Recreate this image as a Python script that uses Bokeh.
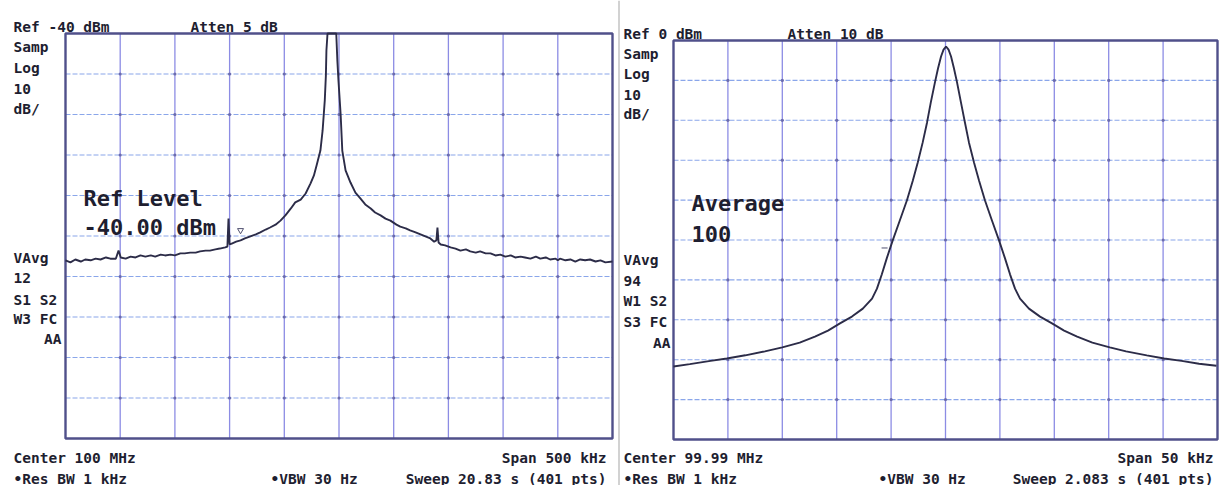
from bokeh.plotting import figure
from bokeh.models import Label, Range1d
from bokeh.layouts import row
from bokeh.embed import file_html
from bokeh.resources import INLINE

# ---------------- data ----------------
# Left screen: centre 100 MHz, span 500 kHz, ref -40 dBm, 10 dB/div
left_offset_khz = [
    -250, -245.5, -241, -236, -232, -227, -222.5, -218, -213, -209,
    -204, -201.5, -199.5, -195, -190.5, -186, -181.5, -177, -172, -168,
    -163, -159, -154, -150, -145, -141, -136, -131, -127, -122,
    -118, -113, -109, -104, -102, -101, -100, -97.5, -94, -90,
    -86, -81, -76, -72, -67, -63, -58, -53.5, -49, -44,
    -40, -35, -30.5, -26, -23, -20.5, -17, -15, -13, -12,
    -11.5, -10.5, -6, -2.5, -1.5, -0.5, 1.5, 3, 6, 10.5,
    15, 19.5, 24, 29, 33, 38, 42.5, 47, 52.5, 56,
    61, 65, 70, 74.5, 79, 83.5, 87, 89, 90, 91,
    93, 97, 102, 106.5, 111, 116, 120, 125, 129, 134,
    138.5, 143, 147.5, 152, 157, 161, 166, 170, 175, 180,
    184, 189, 193, 198, 200, 202, 207, 211.5, 216, 220.5,
    225, 229.5, 234.5, 239, 243.5, 250,
]
left_level_dbm = [
    -96.0, -96.5, -95.8, -96.3, -95.8, -96.0, -95.6, -95.8, -95.3, -95.6,
    -95.6, -93.6, -95.3, -95.6, -95.1, -95.3, -94.8, -95.1, -94.8, -95.1,
    -94.6, -94.8, -94.6, -94.8, -94.3, -94.3, -94.1, -94.1, -93.8, -93.6,
    -93.6, -93.3, -93.1, -92.8, -92.6, -85.7, -92.1, -91.8, -91.4, -91.1,
    -90.6, -90.1, -89.6, -89.1, -88.4, -87.9, -87.2, -86.2, -84.9, -83.2,
    -81.7, -81.0, -79.5, -77.0, -75.1, -72.6, -68.9, -64.0, -56.5, -50.4,
    -44.2, -40.0, -40.0, -40.0, -46.7, -51.6, -60.0, -68.9, -73.8, -76.8,
    -79.3, -80.7, -82.2, -83.2, -84.2, -84.9, -85.7, -86.2, -87.2, -87.7,
    -88.1, -88.6, -89.1, -89.6, -90.1, -90.6, -91.4, -91.1, -87.9, -91.6,
    -92.1, -92.3, -92.8, -93.1, -93.6, -93.3, -93.8, -94.1, -93.8, -94.3,
    -94.3, -94.8, -94.6, -95.1, -94.8, -95.3, -95.1, -95.3, -95.6, -95.1,
    -95.6, -95.3, -95.8, -95.6, -96.0, -95.6, -96.0, -95.8, -96.3, -95.8,
    -96.0, -95.8, -96.3, -96.0, -96.5, -96.3,
]
left_marker_khz = [-90]
left_marker_dbm = [-88.6]

# Right screen: centre 99.99 MHz, span 50 kHz, ref 0 dBm, 10 dB/div
right_offset_khz = [
    -25.0, -23.5, -21.6, -20.1, -18.4, -16.6, -15.0, -13.4, -12.0, -10.8,
    -9.7, -8.6, -7.6, -6.75, -6.3, -5.85, -5.4, -4.85, -4.2, -3.55,
    -3.0, -2.55, -2.1, -1.7, -1.35, -0.97, -0.69, -0.41, -0.18, 0.05,
    0.28, 0.51, 0.78, 1.06, 1.42, 1.79, 2.16, 2.62, 3.08, 3.63,
    4.27, 4.92, 5.47, 5.93, 6.39, 6.85, 7.67, 8.69, 9.79, 10.9,
    12.1, 13.5, 15.1, 16.6, 18.5, 20.1, 21.7, 23.3, 24.9,
]
right_level_dbm = [
    -81.7, -81.1, -80.3, -79.7, -78.9, -77.9, -76.9, -75.7, -74.2, -72.7,
    -70.9, -69.2, -67.2, -64.7, -62.2, -58.6, -54.6, -50.1, -45.1, -40.1,
    -35.1, -30.6, -25.6, -20.6, -15.5, -10.5, -7.0, -4.0, -2.3, -1.5,
    -2.3, -4.0, -7.0, -10.5, -15.5, -20.6, -25.6, -30.6, -35.1, -40.1,
    -45.1, -50.1, -54.6, -58.6, -62.2, -64.7, -67.2, -69.2, -70.9, -72.7,
    -74.2, -75.7, -76.9, -77.9, -78.9, -79.7, -80.3, -81.0, -81.5,
]
right_marker_khz = [-5.6]
right_marker_dbm = [-52.0]

left_span_khz = (-250, 250)
left_db = (-140, -40)
right_span_khz = (-25, 25)
right_db = (-100, 0)
left_grid_x = [-200, -150, -100, -50, 0, 50, 100, 150, 200]
left_grid_y = [-130, -120, -110, -100, -90, -80, -70, -60, -50]
right_grid_x = [-20, -15, -10, -5, 0, 5, 10, 15, 20]
right_grid_y = [-90, -80, -70, -60, -50, -40, -30, -20, -10]

left_texts_top = ["Ref -40 dBm", "Atten 5 dB"]
left_side_top = ["Samp", "Log", "10", "dB/"]
left_side_mid = ["VAvg", "12", "S1 S2", "W3 FC", "AA"]
left_bottom = ["Center 100 MHz", "\u2022Res BW 1 kHz", "\u2022VBW 30 Hz",
               "Span 500 kHz", "Sweep 20.83 s (401 pts)"]
left_note = ["Ref Level", "-40.00 dBm"]

right_texts_top = ["Ref 0 dBm", "Atten 10 dB"]
right_side_top = ["Samp", "Log", "10", "dB/"]
right_side_mid = ["VAvg", "94", "W1 S2", "S3 FC", "AA"]
right_bottom = ["Center 99.99 MHz", "\u2022Res BW 1 kHz", "\u2022VBW 30 Hz",
                "Span 50 kHz", "Sweep 2.083 s (401 pts)"]
right_note = ["Average", "100"]

# ---------------- style ----------------
TRACE = "#2c2c48"
TEXT = "#1e1e30"
VGRID = "#8c8ce4"
HGRID = "#8aa6ea"
FRAME = "#50508a"
MONO = "DejaVu Sans Mono"
H = 485


class Screen:
    """Maps canvas pixels of one figure to its data (kHz, dBm)."""

    def __init__(self, width, fx0, fx1, fy0, fy1, xr, yr):
        self.kx = (xr[1] - xr[0]) / (fx1 - fx0)
        self.ky = (yr[1] - yr[0]) / (fy1 - fy0)
        self.fx0, self.fy0, self.xr, self.yr = fx0, fy0, xr, yr
        self.width = width

    def x(self, X):
        return self.xr[0] + (X - self.fx0) * self.kx

    def y(self, Y):
        return self.yr[1] - (Y - self.fy0) * self.ky


def make_panel(sc, gx, gy, xs, ys, mx, my, mk, sep=None):
    p = figure(width=sc.width, height=H, output_backend="svg", toolbar_location=None,
               x_axis_type=None, y_axis_type=None,
               x_range=Range1d(sc.x(0), sc.x(sc.width)),
               y_range=Range1d(sc.y(H), sc.y(0)),
               min_border=0)
    p.background_fill_color = "white"
    p.border_fill_color = "white"
    p.outline_line_color = None
    x0, x1 = sc.xr
    y0, y1 = sc.yr
    if sep is not None:
        p.segment([sc.x(sep)], [sc.y(0)], [sc.x(sep)], [sc.y(H)],
                  line_color="#b4b4b4", line_width=1.2)
    p.segment(gx, [y0] * len(gx), gx, [y1] * len(gx),
              line_color=VGRID, line_width=1.3)
    p.segment([x0] * len(gy), gy, [x1] * len(gy), gy,
              line_color=HGRID, line_width=1.1, line_dash="5 2")
    ix = [x for x in gx for _ in gy]
    iy = [y for _ in gx for y in gy]
    p.scatter(ix, iy, size=3.2, color="#6c6cae", line_color=None)
    p.quad(left=[x0], right=[x1], bottom=[y0], top=[y1], fill_color=None,
           line_color=FRAME, line_width=2.4)
    p.line(xs, ys, line_color=TRACE, line_width=1.9)
    p.scatter(mx, my, marker=mk, size=6, fill_color=None,
              line_color="#505070", line_width=1)
    return p


sc1 = Screen(617, 65, 612, 33, 438, left_span_khz, left_db)
sc2 = Screen(602, 673 - 617, 1217 - 617, 40, 439, right_span_khz, right_db)

p1 = make_panel(sc1, left_grid_x, left_grid_y, left_offset_khz, left_level_dbm,
                left_marker_khz, left_marker_dbm, "inverted_triangle")
p2 = make_panel(sc2, right_grid_x, right_grid_y, right_offset_khz, right_level_dbm,
                right_marker_khz, right_marker_dbm, "dash", sep=1.5)


def put(p, sc, text, X, Y, size="14.5px", align="left"):
    p.add_layout(Label(x=sc.x(X), y=sc.y(Y), text=text, text_font=MONO,
                       text_font_size=size, text_font_style="bold",
                       text_color=TEXT, text_align=align,
                       text_baseline="alphabetic"))


# left texts (canvas pixel positions)
put(p1, sc1, left_texts_top[0], 13, 26)
put(p1, sc1, left_texts_top[1], 190, 26)
for t, Y in zip(left_side_top, [46, 67, 88, 108]):
    put(p1, sc1, t, 13, Y)
for t, Y in zip(left_side_mid[:4], [257, 277, 299, 318]):
    put(p1, sc1, t, 13, Y)
put(p1, sc1, left_side_mid[4], 61, 338, align="right")
put(p1, sc1, left_bottom[0], 13, 457)
put(p1, sc1, left_bottom[1], 13, 478)
put(p1, sc1, left_bottom[2], 270, 478)
put(p1, sc1, left_bottom[3], 606, 457, align="right")
put(p1, sc1, left_bottom[4], 606, 478, align="right")
put(p1, sc1, left_note[0], 83, 198, size="22px")
put(p1, sc1, left_note[1], 83, 227, size="22px")

# right texts (pixel positions relative to the right figure, which starts at 617)
O = 617
put(p2, sc2, right_texts_top[0], 623 - O, 33)
put(p2, sc2, right_texts_top[1], 787 - O, 33)
for t, Y in zip(right_side_top, [53, 73, 94, 113]):
    put(p2, sc2, t, 623 - O, Y)
for t, Y in zip(right_side_mid[:4], [259, 280, 300, 321]):
    put(p2, sc2, t, 623 - O, Y)
put(p2, sc2, right_side_mid[4], 670 - O, 342, align="right")
put(p2, sc2, right_bottom[0], 623 - O, 457)
put(p2, sc2, right_bottom[1], 623 - O, 478)
put(p2, sc2, right_bottom[2], 878 - O, 478)
put(p2, sc2, right_bottom[3], 1213 - O, 457, align="right")
put(p2, sc2, right_bottom[4], 1213 - O, 478, align="right")
put(p2, sc2, right_note[0], 691 - O, 203, size="22px")
put(p2, sc2, right_note[1], 691 - O, 233, size="22px")

layout = row(p1, p2, spacing=0)

open("out.html", "w").write(file_html(layout, INLINE))
